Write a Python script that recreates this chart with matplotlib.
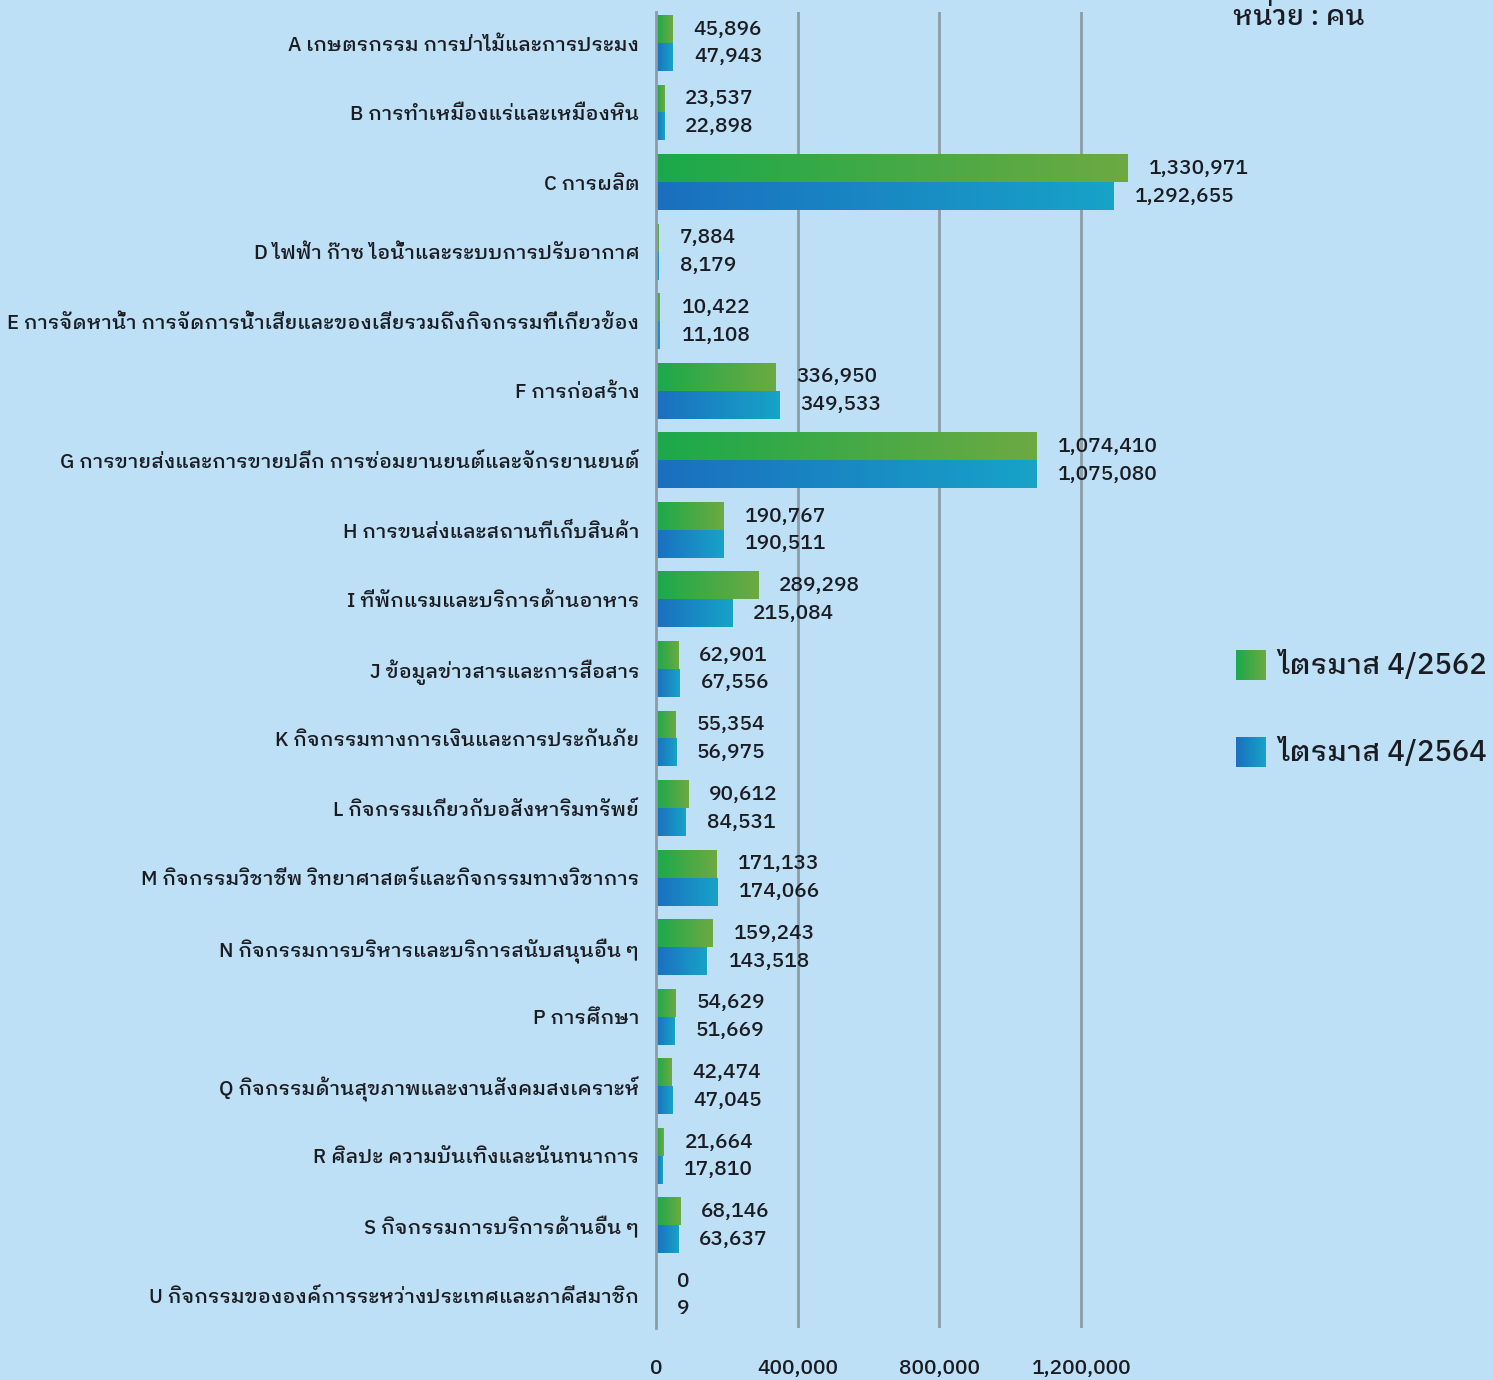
import numpy as np
import matplotlib
matplotlib.use("Agg")
import matplotlib.pyplot as plt
from matplotlib import font_manager
from matplotlib.ft2font import FT2Font
from matplotlib.colors import to_rgb

# ---------------- data ----------------
categories = [
    "A เกษตรกรรม การป่าไม้และการประมง",
    "B การทำเหมืองแร่และเหมืองหิน",
    "C การผลิต",
    "D ไฟฟ้า ก๊าซ ไอน้ำและระบบการปรับอากาศ",
    "E การจัดหาน้ำ การจัดการน้ำเสียและของเสียรวมถึงกิจกรรมที่เกี่ยวข้อง",
    "F การก่อสร้าง",
    "G การขายส่งและการขายปลีก การซ่อมยานยนต์และจักรยานยนต์",
    "H การขนส่งและสถานที่เก็บสินค้า",
    "I ที่พักแรมและบริการด้านอาหาร",
    "J ข้อมูลข่าวสารและการสื่อสาร",
    "K กิจกรรมทางการเงินและการประกันภัย",
    "L กิจกรรมเกี่ยวกับอสังหาริมทรัพย์",
    "M กิจกรรมวิชาชีพ วิทยาศาสตร์และกิจกรรมทางวิชาการ",
    "N กิจกรรมการบริหารและบริการสนับสนุนอื่น ๆ",
    "P การศึกษา",
    "Q กิจกรรมด้านสุขภาพและงานสังคมสงเคราะห์",
    "R ศิลปะ ความบันเทิงและนันทนาการ",
    "S กิจกรรมการบริการด้านอื่น ๆ",
    "U กิจกรรมขององค์การระหว่างประเทศและภาคีสมาชิก",
]
q4_2562 = [45896, 23537, 1330971, 7884, 10422, 336950, 1074410, 190767, 289298,
           62901, 55354, 90612, 171133, 159243, 54629, 42474, 21664, 68146, 0]
q4_2564 = [47943, 22898, 1292655, 8179, 11108, 349533, 1075080, 190511, 215084,
           67556, 56975, 84531, 174066, 143518, 51669, 47045, 17810, 63637, 9]
series_names = ["ไตรมาส 4/2562", "ไตรมาส 4/2564"]
xticks = [0, 400000, 800000, 1200000]
xtick_labels = ["0", "400,000", "800,000", "1,200,000"]
unit_text = "หน่วย : คน"

# ---------------- font with Thai glyphs ----------------
thai_fonts = []
for f in font_manager.fontManager.ttflist:
    try:
        cm = FT2Font(f.fname).get_charmap()
        if 0x0E01 in cm and 0x0E32 in cm and 0x0E49 in cm:
            thai_fonts.append(f.name)
    except Exception:
        pass
thai_fonts = sorted(set(thai_fonts), key=lambda n: (0 if "Looped" in n else (1 if "Thai" in n else 2), n))
families = (thai_fonts[:1] if thai_fonts else []) + ["DejaVu Sans"]
plt.rcParams["font.family"] = families
plt.rcParams["font.weight"] = "medium"

BG = "#BEE0F6"
TXT = "#1b1c22"
GRID = "#8d9ca8"
green_grad = ("#1aa94b", "#6daa42")
blue_grad = ("#1b6fbf", "#17a3c8")

W, H = 1493, 1380
fig = plt.figure(figsize=(W / 100, H / 100), dpi=100, facecolor=BG)

ax_left, ax_right = 656, 1187
ax_top, ax_bot = 12, 1328
ax = fig.add_axes([ax_left / W, 1 - ax_bot / H, (ax_right - ax_left) / W, (ax_bot - ax_top) / H])
ax.set_facecolor(BG)

n = len(categories)
y = np.arange(n)
bh = 0.40
b1 = ax.barh(y - bh / 2, q4_2562, height=bh, color=green_grad[0], linewidth=0, zorder=3)
b2 = ax.barh(y + bh / 2, q4_2564, height=bh, color=blue_grad[0], linewidth=0, zorder=3)


def grad_img(c0, c1, N=256):
    a = np.array(to_rgb(c0)); b = np.array(to_rgb(c1))
    t = np.linspace(0, 1, N)[:, None]
    return (a + (b - a) * t)[None, :, :]


for bars, cols in ((b1, green_grad), (b2, blue_grad)):
    g = grad_img(*cols)
    for p in bars.patches:
        x0, y0 = p.get_x(), p.get_y()
        w, h = p.get_width(), p.get_height()
        if w <= 0:
            continue
        ax.imshow(g, extent=[x0, x0 + w, y0 + h, y0], aspect="auto",
                  interpolation="bilinear", zorder=4)

for bars, vals in ((b1, q4_2562), (b2, q4_2564)):
    for p, v in zip(bars.patches, vals):
        ax.annotate(f"{v:,}", xy=(p.get_width(), p.get_y() + p.get_height() / 2),
                    xytext=(15, 0), textcoords="offset points", ha="left", va="center",
                    fontsize=15, color=TXT, zorder=6)

ax.set_xlim(0, 1500000)
ax.set_ylim(n - 1 + 0.474, -0.446)

ax.set_yticks(y)
ax.set_yticklabels(categories, fontsize=14.6, color=TXT)
ax.set_xticks(xticks)
ax.set_xticklabels(xtick_labels, fontsize=15, color=TXT)
ax.tick_params(axis="y", length=0, pad=12)
ax.tick_params(axis="x", length=0, pad=22)

for s in ("top", "right", "bottom"):
    ax.spines[s].set_visible(False)
ax.spines["left"].set_color(GRID)
ax.spines["left"].set_linewidth(2)
ax.spines["left"].set_zorder(5)

for xv in xticks[1:]:
    ax.axvline(xv, color=GRID, lw=2, zorder=1)

# unit text (top right)
fig.text(1233 / W, 1 - 4 / H, unit_text, fontsize=20, color=TXT, ha="left", va="top")

# legend with gradient squares
leg_items = [(series_names[0], green_grad, 650), (series_names[1], blue_grad, 737)]
for name, cols, top in leg_items:
    lax = fig.add_axes([1236 / W, 1 - (top + 30) / H, 30 / W, 30 / H])
    lax.imshow(grad_img(*cols), aspect="auto", interpolation="bilinear", extent=[0, 1, 0, 1])
    lax.set_axis_off()
    fig.text(1278 / W, 1 - (top + 15) / H, name, fontsize=21, color=TXT, ha="left", va="center")

fig.savefig("out.png", dpi=100, facecolor=BG)
